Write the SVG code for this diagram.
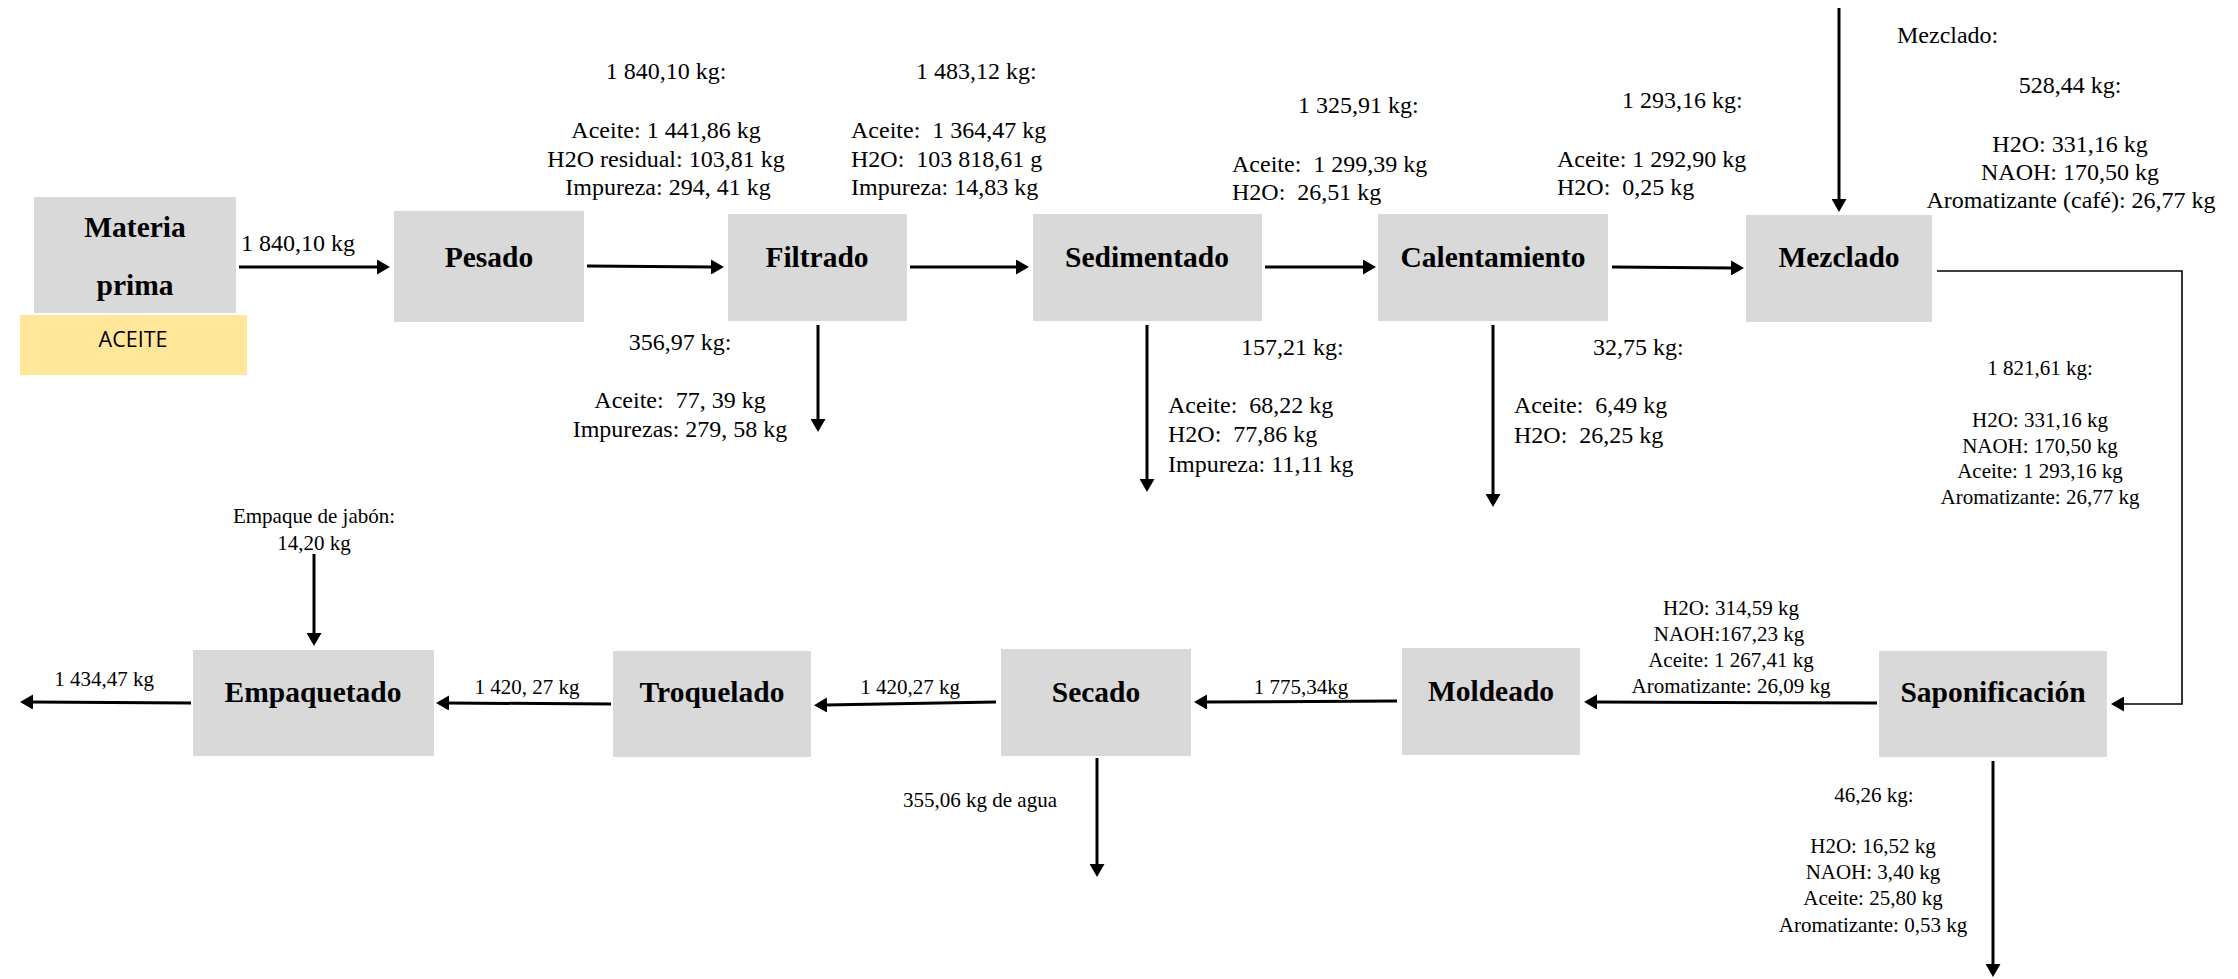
<svg xmlns="http://www.w3.org/2000/svg" width="2238" height="979" viewBox="0 0 2238 979">
<style>
.box{fill:#d9d9d9}
.nl{font-family:"Liberation Serif","Times New Roman",serif;font-weight:bold;font-size:29.5px;fill:#000;text-anchor:middle}
.t{font-family:"Liberation Serif","Times New Roman",serif;font-size:24px;fill:#000;white-space:pre}
.s{font-family:"Liberation Serif","Times New Roman",serif;font-size:21px;fill:#000;white-space:pre}
.c{text-anchor:middle}
.ln{stroke:#000;stroke-width:3;fill:none;marker-end:url(#ah)}
.thin{stroke:#000;stroke-width:1.6;fill:none;marker-end:url(#ah)}
</style>
<defs>
<marker id="ah" viewBox="0 0 13 15" markerWidth="13" markerHeight="15" refX="2" refY="7.5" orient="auto" markerUnits="userSpaceOnUse">
<path d="M0,0 L13,7.5 L0,15 z" fill="#000"/>
</marker>
</defs>
<rect width="2238" height="979" fill="#fff"/>

<g id="materia-prima">
<rect class="box" x="34" y="197" width="202" height="116"/>
<text class="nl" x="135" y="237">Materia</text>
<text class="nl" x="135" y="295">prima</text>
</g>
<g id="aceite">
<rect x="20" y="315" width="227" height="60" fill="#ffe699"/>
<text x="133" y="347" font-family="'Open Sans','Noto Sans',sans-serif" font-size="21.5" text-anchor="middle" fill="#000">ACEITE</text>
</g>
<g id="pesado">
<rect class="box" x="394" y="211" width="190" height="111"/>
<text class="nl" x="489" y="267">Pesado</text>
</g>
<g id="filtrado">
<rect class="box" x="728" y="214" width="179" height="107"/>
<text class="nl" x="817" y="267">Filtrado</text>
</g>
<g id="sedimentado">
<rect class="box" x="1033" y="214" width="229" height="107"/>
<text class="nl" x="1147" y="267">Sedimentado</text>
</g>
<g id="calentamiento">
<rect class="box" x="1378" y="214" width="230" height="107"/>
<text class="nl" x="1493" y="267">Calentamiento</text>
</g>
<g id="mezclado">
<rect class="box" x="1746" y="215" width="186" height="107"/>
<text class="nl" x="1839" y="267">Mezclado</text>
</g>
<g id="saponificacion">
<rect class="box" x="1879" y="651" width="228" height="106"/>
<text class="nl" x="1993" y="702">Saponificación</text>
</g>
<g id="moldeado">
<rect class="box" x="1402" y="648" width="178" height="107"/>
<text class="nl" x="1491" y="701">Moldeado</text>
</g>
<g id="secado">
<rect class="box" x="1001" y="649" width="190" height="107"/>
<text class="nl" x="1096" y="702">Secado</text>
</g>
<g id="troquelado">
<rect class="box" x="613" y="651" width="198" height="106"/>
<text class="nl" x="712" y="702">Troquelado</text>
</g>
<g id="empaquetado">
<rect class="box" x="193" y="650" width="241" height="106"/>
<text class="nl" x="313" y="702">Empaquetado</text>
</g>

<g id="connectors">
<line class="ln" x1="239" y1="267" x2="379" y2="267"/>
<line class="ln" x1="587" y1="266" x2="713" y2="267"/>
<line class="ln" x1="910" y1="267" x2="1018" y2="267"/>
<line class="ln" x1="1265" y1="267" x2="1365" y2="267"/>
<line class="ln" x1="1612" y1="267" x2="1733" y2="268"/>
<line class="ln" x1="1839" y1="8" x2="1839" y2="201"/>
<line class="ln" x1="818" y1="325" x2="818" y2="421"/>
<line class="ln" x1="1147" y1="325" x2="1147" y2="481"/>
<line class="ln" x1="1493" y1="325" x2="1493" y2="496"/>
<polyline class="thin" points="1937,271 2182,271 2182,704 2122,704"/>
<line class="ln" x1="1877" y1="703" x2="1595" y2="702"/>
<line class="ln" x1="1397" y1="701" x2="1205" y2="702"/>
<line class="ln" x1="996" y1="702" x2="825" y2="705"/>
<line class="ln" x1="611" y1="704" x2="447" y2="703"/>
<line class="ln" x1="191" y1="703" x2="31" y2="702"/>
<line class="ln" x1="314" y1="554" x2="314" y2="635"/>
<line class="ln" x1="1097" y1="758" x2="1097" y2="866"/>
<line class="ln" x1="1993" y1="761" x2="1993" y2="966"/>
</g>

<g id="labels">
<text class="t" x="241" y="251">1 840,10 kg</text>

<text class="t c" x="666" y="79">1 840,10 kg:</text>
<text class="t c" x="666" y="138">Aceite: 1 441,86 kg</text>
<text class="t c" x="666" y="167">H2O residual: 103,81 kg</text>
<text class="t c" x="668" y="195">Impureza: 294, 41 kg</text>

<text class="t" x="916" y="79">1 483,12 kg:</text>
<text class="t" x="851" y="138">Aceite:  1 364,47 kg</text>
<text class="t" x="851" y="167">H2O:  103 818,61 g</text>
<text class="t" x="851" y="195">Impureza: 14,83 kg</text>

<text class="t" x="1298" y="113">1 325,91 kg:</text>
<text class="t" x="1232" y="172">Aceite:  1 299,39 kg</text>
<text class="t" x="1232" y="200">H2O:  26,51 kg</text>

<text class="t" x="1622" y="108">1 293,16 kg:</text>
<text class="t" x="1557" y="167">Aceite: 1 292,90 kg</text>
<text class="t" x="1557" y="195">H2O:  0,25 kg</text>

<text class="t" x="1897" y="43">Mezclado:</text>
<text class="t c" x="2070" y="93">528,44 kg:</text>
<text class="t c" x="2070" y="152">H2O: 331,16 kg</text>
<text class="t c" x="2070" y="180">NAOH: 170,50 kg</text>
<text class="t c" x="2071" y="208">Aromatizante (café): 26,77 kg</text>

<text class="t c" x="680" y="350">356,97 kg:</text>
<text class="t c" x="680" y="408">Aceite:  77, 39 kg</text>
<text class="t c" x="680" y="437">Impurezas: 279, 58 kg</text>

<text class="t" x="1241" y="355">157,21 kg:</text>
<text class="t" x="1168" y="413">Aceite:  68,22 kg</text>
<text class="t" x="1168" y="442">H2O:  77,86 kg</text>
<text class="t" x="1168" y="472">Impureza: 11,11 kg</text>

<text class="t" x="1593" y="355">32,75 kg:</text>
<text class="t" x="1514" y="413">Aceite:  6,49 kg</text>
<text class="t" x="1514" y="443">H2O:  26,25 kg</text>

<text class="s c" x="2040" y="375">1 821,61 kg:</text>
<text class="s c" x="2040" y="427">H2O: 331,16 kg</text>
<text class="s c" x="2040" y="453">NAOH: 170,50 kg</text>
<text class="s c" x="2040" y="478">Aceite: 1 293,16 kg</text>
<text class="s c" x="2040" y="504">Aromatizante: 26,77 kg</text>

<text class="s c" x="1731" y="615">H2O: 314,59 kg</text>
<text class="s c" x="1729" y="641">NAOH:167,23 kg</text>
<text class="s c" x="1731" y="667">Aceite: 1 267,41 kg</text>
<text class="s c" x="1731" y="693">Aromatizante: 26,09 kg</text>

<text class="s c" x="1874" y="802">46,26 kg:</text>
<text class="s c" x="1873" y="853">H2O: 16,52 kg</text>
<text class="s c" x="1873" y="879">NAOH: 3,40 kg</text>
<text class="s c" x="1873" y="905">Aceite: 25,80 kg</text>
<text class="s c" x="1873" y="932">Aromatizante: 0,53 kg</text>

<text class="s c" x="1301" y="694">1 775,34kg</text>
<text class="s c" x="910" y="694">1 420,27 kg</text>
<text class="s c" x="980" y="807">355,06 kg de agua</text>
<text class="s c" x="527" y="694">1 420, 27 kg</text>
<text class="s c" x="104" y="686">1 434,47 kg</text>
<text class="s c" x="314" y="523">Empaque de jabón:</text>
<text class="s c" x="314" y="550">14,20 kg</text>
</g>
</svg>
